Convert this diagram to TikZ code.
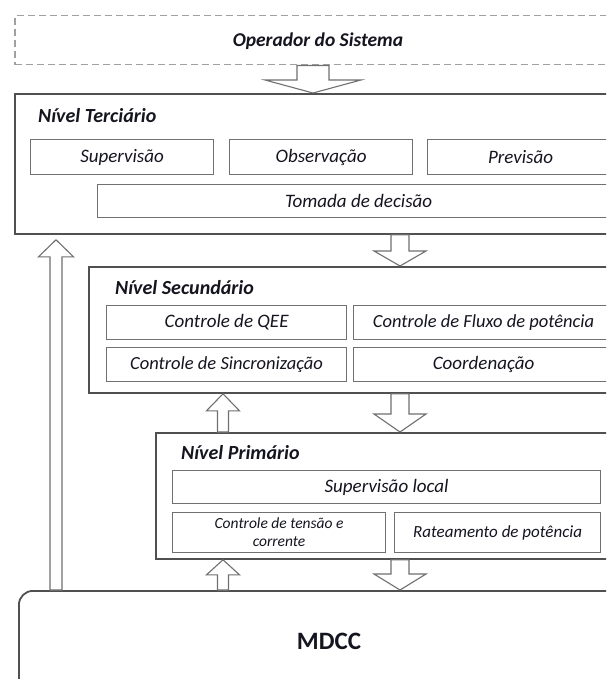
\documentclass[tikz,border=0pt]{standalone}
\usepackage{fontspec}
\setmainfont{Carlito}
\usetikzlibrary{calc}
\definecolor{frame}{HTML}{505050}
\definecolor{inner}{HTML}{707070}
\definecolor{dashgray}{HTML}{A0A0A0}
\definecolor{ink}{HTML}{151520}

% hollow block arrow from #1 to #2: shaft half-width #3, head half-width #4, head length #5
\newcommand\blockarrow[5]{%
  \draw[arrowline] let \p1=(#1), \p2=(#2), \n1={ifthenelse(\y2>\y1,1,-1)} in
    (\x1-#3,\y1) -- (\x1-#3,\y2-\n1*#5) -- (\x1-#4,\y2-\n1*#5) -- (\x2,\y2)
    -- (\x1+#4,\y2-\n1*#5) -- (\x1+#3,\y2-\n1*#5) -- (\x1+#3,\y1) -- cycle;}

\begin{document}
\begin{tikzpicture}[x=1pt,y=-1pt,
  levelbox/.style={draw=frame, line width=1.8pt, fill=white, anchor=north west, inner sep=0pt},
  itembox/.style={draw=inner, line width=1.2pt, anchor=north west, inner sep=0pt, text=ink,
    font=\itshape\fontsize{19}{21}\selectfont},
  title/.style={anchor=west, inner sep=0pt, text=ink, font=\bfseries\itshape\fontsize{20}{23}\selectfont},
  arrowline/.style={draw=inner, line width=1.1pt, fill=white}]
\clip (0,0) rectangle (606,679);
\fill[white] (0,0) rectangle (606,679);

% operator
\node[draw=dashgray, dash pattern=on 7pt off 4pt, line width=1.5pt, anchor=north west,
  minimum width=640, minimum height=49, inner sep=0pt] (op) at (14,15) {};
\node[text=ink, font=\bfseries\itshape\fontsize{19.5}{22}\selectfont] (optext) at (318,41) {Operador do Sistema};

% tertiary level
\node[levelbox, minimum width=700, minimum height=140] (ter) at (14,93) {};
\node[title] (tertitle) at (38,116) {Nível Terciário};
\node[itembox, minimum width=183, minimum height=35] (sup) at (30,139) {Supervisão};
\node[itembox, minimum width=183, minimum height=35] (obs) at (229,139) {Observação};
\node[itembox, minimum width=186, minimum height=35] (prev) at (427,139) {Previsão};
\node[itembox, minimum width=522, minimum height=33] (tom) at (97,184) {Tomada de decisão};

% secondary level
\node[levelbox, minimum width=700, minimum height=126] (sec) at (88,266) {};
\node[title] (sectitle) at (115,288) {Nível Secundário};
\node[itembox, minimum width=240, minimum height=34] (qee) at (106,305) {Controle de QEE};
\node[itembox, minimum width=260, minimum height=34, font=\itshape\fontsize{18.5}{21}\selectfont] (flux) at (353,305) {Controle de Fluxo de potência};
\node[itembox, minimum width=240, minimum height=34, font=\itshape\fontsize{18.5}{21}\selectfont] (sinc) at (106,347) {Controle de Sincronização};
\node[itembox, minimum width=260, minimum height=34] (coord) at (353,347) {Coordenação};

% primary level
\node[levelbox, minimum width=700, minimum height=126] (pri) at (155,432) {};
\node[title] (prititle) at (181,453) {Nível Primário};
\node[itembox, minimum width=428, minimum height=33] (supl) at (172,470) {Supervisão local};
\node[itembox, minimum width=213, minimum height=40, align=center,
  font=\itshape\fontsize{15.5}{18}\selectfont] (ten) at (172,512) {Controle de tensão e\\corrente};
\node[itembox, minimum width=206, minimum height=40, font=\itshape\fontsize{17}{20}\selectfont] (rat) at (394,512) {Rateamento de potência};

% converter
\node[draw=frame, line width=1.8pt, rounded corners=14pt, anchor=north west,
  minimum width=700, minimum height=110, inner sep=0pt] (mdcc) at (18,590) {};
\node[text=ink, font=\bfseries\fontsize{25}{28}\selectfont] (mdcclabel) at (329,641) {MDCC};

% arrow columns
\coordinate (x56) at (56,0);
\coordinate (x223) at (223,0);
\coordinate (x313) at (313,0);
\coordinate (x400) at (400,0);

\blockarrow{op.south -| x313}{ter.north -| x313}{16pt}{48pt}{13pt}
\blockarrow{ter.south -| x400}{sec.north -| x400}{9pt}{26pt}{15pt}
\blockarrow{sec.south -| x400}{pri.north -| x400}{9pt}{26pt}{18pt}
\blockarrow{pri.south -| x400}{mdcc.north -| x400}{9pt}{26pt}{16pt}
\blockarrow{mdcc.north -| x223}{pri.south -| x223}{5.5pt}{16.5pt}{15pt}
\blockarrow{pri.north -| x223}{sec.south -| x223}{5.5pt}{16.5pt}{17pt}
\blockarrow{mdcc.north -| x56}{$(ter.south -| x56)+(0,5)$}{6pt}{17.5pt}{17pt}
\end{tikzpicture}
\end{document}
